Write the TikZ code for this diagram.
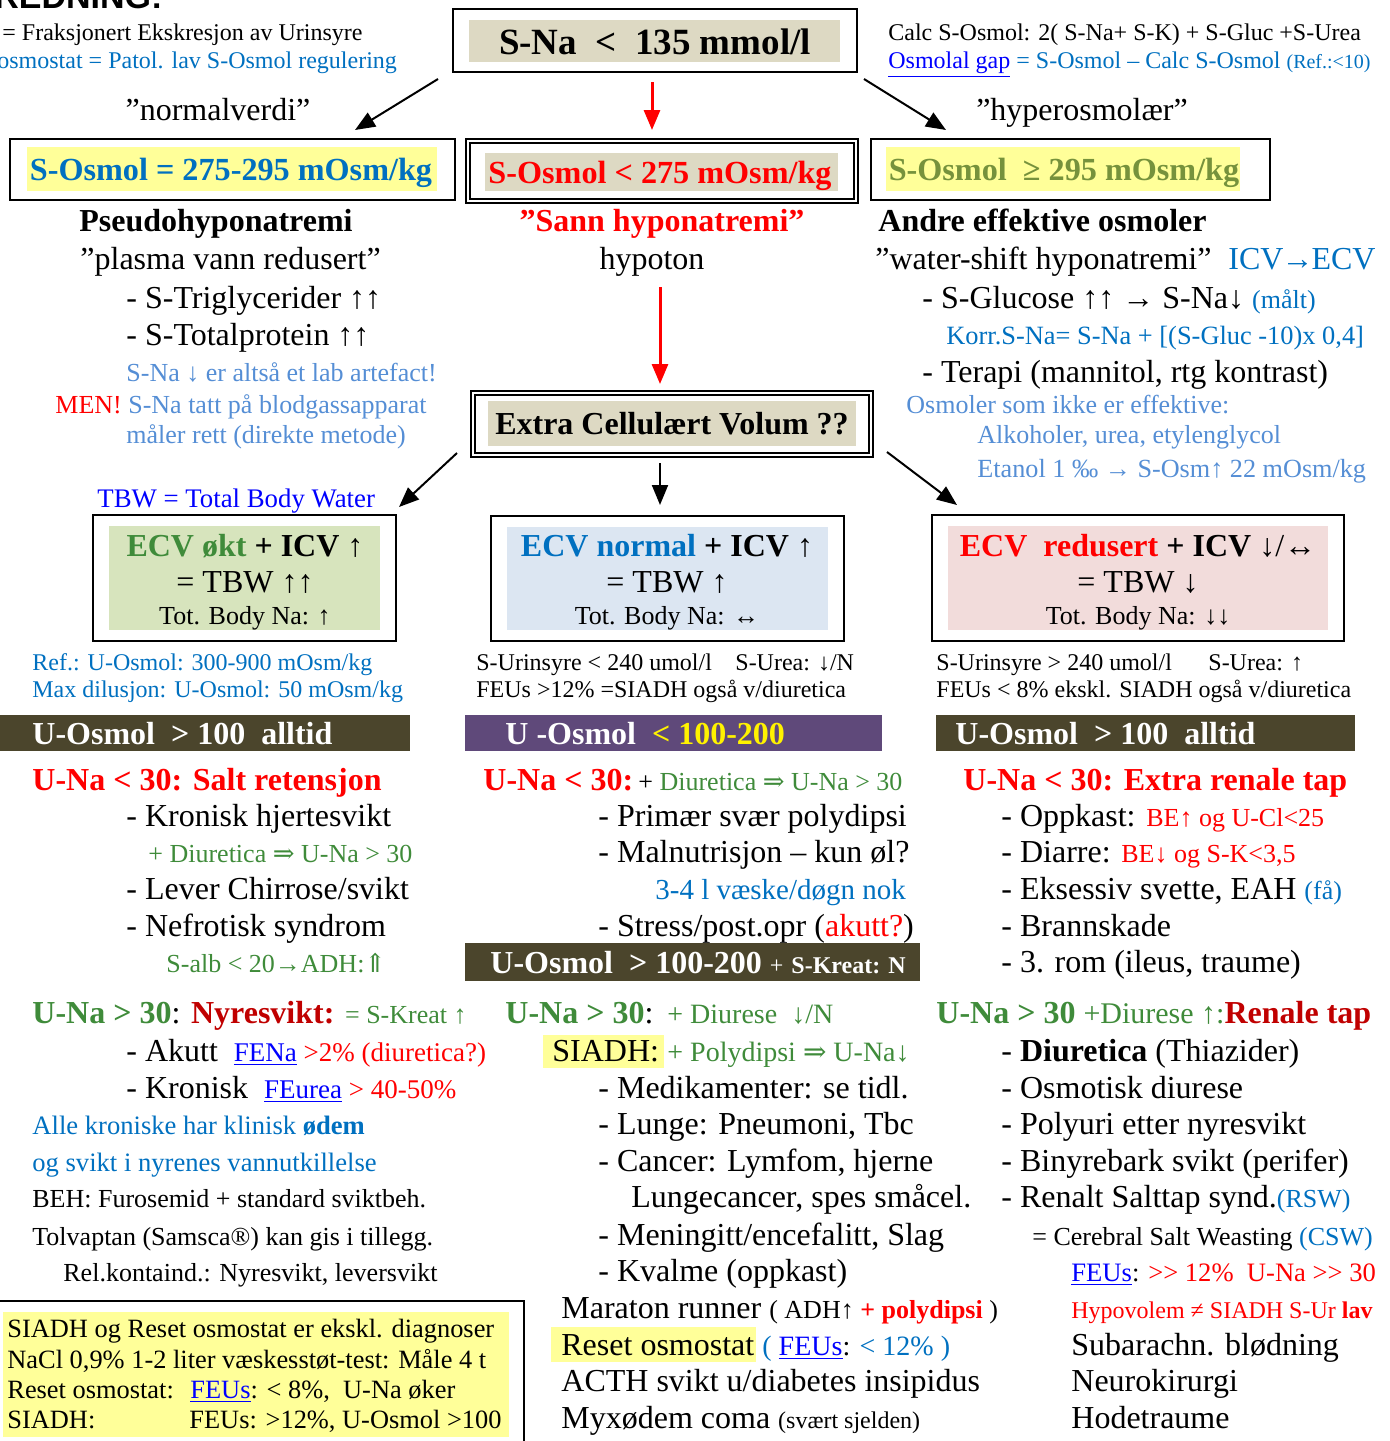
\documentclass[tikz,border=0pt]{standalone}
\usepackage{fontspec}
\setmainfont{Liberation Serif}
\setsansfont{Liberation Sans}
\newfontfamily\symfont{DejaVu Serif}
\usetikzlibrary{arrows.meta}
\definecolor{mblue}{HTML}{0070C0}
\definecolor{lblue}{HTML}{558ED5}
\definecolor{lnkblue}{HTML}{0000FF}
\definecolor{mgreen}{HTML}{3F8B3A}
\definecolor{dred}{HTML}{C00000}
\definecolor{olivebar}{HTML}{4B452C}
\definecolor{purplebar}{HTML}{5F497A}
\definecolor{beige}{HTML}{DDD9C3}
\definecolor{lyellow}{HTML}{FFFF99}
\definecolor{lgreen}{HTML}{D7E4BD}
\definecolor{lbluefill}{HTML}{DCE6F2}
\definecolor{lpink}{HTML}{F2DCDB}
\definecolor{olivetxt}{HTML}{76923C}
\newcommand{\fs}[1]{\fontsize{#1}{#1}\selectfont}
\newcommand{\lnk}[1]{\textcolor{lnkblue}{\underline{#1}}}
\newcommand{\sy}[1]{{\symfont #1}}

\begin{document}
\begin{tikzpicture}[x=0.5pt,y=-0.5pt,
    txt/.style={anchor=base west,inner sep=0pt,font=\fs{16}},
    midt/.style={anchor=base,inner sep=0pt,font=\fs{16}},
    liten/.style={txt,font=\fs{12}},
    pil/.style={-{Triangle[length=10pt,width=8pt]},line width=1pt},
    rodpil/.style={pil,red,line width=1.5pt},
    ramme/.style={draw,line width=1pt},
    tynn/.style={draw,line width=0.6pt}]
    \useasboundingbox (0,0) rectangle (1390,1441);

    % Topp
    \node[txt,font=\sffamily\bfseries\fs{17}] (tittel) at (-6,8) {REDNING:};
    \node[liten] (feus) at (2,40) {= Fraksjonert Ekskresjon av Urinsyre};
    \node[liten,text=mblue] (resetdef) at (-3,68) {osmostat = Patol. lav S-Osmol regulering};
    \node[liten] (calc) at (888,40) {Calc S-Osmol: 2( S-Na+ S-K) + S-Gluc +S-Urea};
    \node[liten,text=mblue] (gap) at (888,68) {\lnk{Osmolal gap} = S-Osmol – Calc S-Osmol {\fs{10}(Ref.:<10)}};

    \draw[ramme] (453,9) rectangle (857,72);
    \fill[beige] (469,20) rectangle (840,62);
    \node[midt,font=\bfseries\fs{18.5}] (sna) at (655,54) {S-Na \ < \ 135 mmol/l};

    \coordinate (v1) at (438,79); \coordinate (v2) at (355,130);
    \coordinate (m1) at (652,82); \coordinate (m2) at (652,130);
    \coordinate (h1) at (864,79); \coordinate (h2) at (946,130);
    \draw[pil] (v1) -- (v2);
    \draw[rodpil] (m1) -- (m2);
    \draw[pil] (h1) -- (h2);
    \node[midt] (normverdi) at (218,120) {”normalverdi”};
    \node[midt] (hyperosm) at (1082,120) {”hyperosmolær”};

    % S-Osmol bokser
    \draw[ramme] (10,139) rectangle (455,200);
    \fill[lyellow] (27,147) rectangle (437,191);
    \node[midt,font=\bfseries\fs{16.1},text=mblue] (normal) at (231,180) {S-Osmol = 275-295 mOsm/kg};
    \draw[tynn] (466,139) rectangle (858,203);
    \draw[tynn] (470,143) rectangle (854,199);
    \fill[beige] (485,153) rectangle (838,191);
    \node[midt,font=\bfseries\fs{16.1},text=red] (hypo) at (660,183) {S-Osmol < 275 mOsm/kg};
    \draw[ramme] (871,139) rectangle (1270,200);
    \fill[lyellow] (886,147) rectangle (1240,191);
    \node[midt,font=\bfseries\fs{16.1},text=olivetxt] (hyper) at (1064,180) {S-Osmol \ ≥ 295 mOsm/kg};

    % Venstre
    \node[midt,font=\bfseries\fs{16}] (pseudo) at (216,231) {Pseudohyponatremi};
    \node[txt] (plasma) at (80,269) {”plasma vann redusert”};
    \node[txt] (trig) at (126,308) {- S-Triglycerider ↑↑};
    \node[txt] (prot) at (126,345) {- S-Totalprotein ↑↑};
    \node[txt,font=\fs{13},text=lblue] (artef) at (126,381) {S-Na ↓ er altså et lab artefact!};
    \node[txt,font=\fs{13},text=lblue] (men) at (55,413) {\textcolor{red}{MEN!} S-Na tatt på blodgassapparat};
    \node[txt,font=\fs{13},text=lblue] (maaler) at (126,443) {måler rett (direkte metode)};

    % Midten
    \node[midt,font=\bfseries\fs{16},text=red] (sann) at (662,231) {”Sann hyponatremi”};
    \node[midt] (hypoton) at (652,269) {hypoton};
    \coordinate (r1) at (660,287); \coordinate (r2) at (660,384);
    \draw[rodpil] (r1) -- (r2);
    \draw[ramme] (471,391) rectangle (873,457);
    \draw[tynn] (475,395) rectangle (869,453);
    \fill[beige] (488,401) rectangle (856,446);
    \node[midt,font=\bfseries\fs{16}] (ecv) at (672,434) {Extra Cellulært Volum ??};

    % Hoyre
    \node[txt,font=\bfseries\fs{16}] (andre) at (878,231) {Andre effektive osmoler};
    \node[txt] (shift) at (875,269) {”water-shift hyponatremi”};
    \node[txt,text=mblue] (icv) at (1228,269) {ICV\kern-1pt→\kern-1pt ECV};
    \node[txt] (gluc) at (922,308) {- S-Glucose ↑↑ → S-Na↓ \textcolor{mblue}{\fs{13}(målt)}};
    \node[txt,font=\fs{13.2},text=mblue] (korr) at (946,344) {Korr.S-Na= S-Na + [(S-Gluc -10)x 0,4]};
    \node[txt] (terapi) at (922,382) {- Terapi (mannitol, rtg kontrast)};
    \node[txt,font=\fs{13},text=lblue] (ikkeeff) at (906,413) {Osmoler som ikke er effektive:};
    \node[txt,font=\fs{13},text=lblue] (alko) at (977,443) {Alkoholer, urea, etylenglycol};
    \node[txt,font=\fs{13.1},text=lblue] (etanol) at (977,477) {Etanol 1 ‰ → S-Osm↑ 22 mOsm/kg};

    \coordinate (e1) at (457,453); \coordinate (e2) at (399,507);
    \coordinate (e3) at (660,463); \coordinate (e4) at (660,505);
    \coordinate (e5) at (887,452); \coordinate (e6) at (957,505);
    \draw[pil] (e1) -- (e2);
    \draw[pil] (e3) -- (e4);
    \draw[pil] (e5) -- (e6);
    \node[txt,font=\fs{13.4},text=lnkblue] (tbw) at (97,507) {\underline{TBW = Total Body Water}};

    % ECV bokser
    \draw[ramme] (93,515) rectangle (396,641);
    \fill[lgreen] (109,526) rectangle (380,630);
    \node[midt,font=\bfseries\fs{16}] (okt) at (245,556) {\textcolor{mgreen}{ECV økt} + ICV {\mdseries ↑}};
    \node[midt] (tbwokt) at (245,592) {= TBW ↑↑};
    \node[midt,font=\fs{13}] (naokt) at (245,624) {Tot. Body Na: ↑};

    \draw[ramme] (491,516) rectangle (844,641);
    \fill[lbluefill] (507,527) rectangle (828,630);
    \node[midt,font=\bfseries\fs{16}] (norm) at (667,556) {\textcolor{mblue}{ECV normal} + ICV {\mdseries ↑}};
    \node[midt] (tbwnorm) at (667,592) {= TBW ↑};
    \node[midt,font=\fs{13}] (nanorm) at (667,624) {Tot. Body Na: ↔};

    \draw[ramme] (932,515) rectangle (1344,641);
    \fill[lpink] (948,526) rectangle (1328,630);
    \node[midt,font=\bfseries\fs{16}] (red) at (1138,556) {\textcolor{red}{ECV \ redusert} + ICV {\mdseries ↓/↔}};
    \node[midt] (tbwred) at (1138,592) {= TBW ↓};
    \node[midt,font=\fs{13}] (nared) at (1138,624) {Tot. Body Na: ↓↓};

    \node[liten,text=mblue] (ref) at (32,670) {Ref.: U-Osmol: 300-900 mOsm/kg};
    \node[liten,text=mblue] (maxdil) at (32,697) {Max dilusjon: U-Osmol: 50 mOsm/kg};
    \node[liten] (urin1) at (476,670) {S-Urinsyre < 240 umol/l};
    \node[liten] (urea1) at (735,670) {S-Urea: ↓/N};
    \node[liten] (feu1) at (476,697) {FEUs >12\% =SIADH også v/diuretica};
    \node[liten] (urin2) at (936,670) {S-Urinsyre > 240 umol/l};
    \node[liten] (urea2) at (1208,670) {S-Urea: ↑};
    \node[liten] (feu2) at (936,697) {FEUs < 8\% ekskl. SIADH også v/diuretica};

    % U-Osmol bjelker
    \fill[olivebar] (0,715) rectangle (410,751);
    \node[txt,font=\bfseries\fs{16},text=white] (uosm1) at (32,744) {U-Osmol \ > 100 \ alltid};
    \fill[purplebar] (465,715) rectangle (882,751);
    \node[txt,font=\bfseries\fs{16},text=white] (uosm2) at (505,744) {U -Osmol \ \textcolor{yellow}{< 100-200}};
    \fill[olivebar] (936,715) rectangle (1355,751);
    \node[txt,font=\bfseries\fs{16},text=white] (uosm3) at (955,744) {U-Osmol \ > 100 \ alltid};

    % U-Na < 30
    \node[txt,font=\bfseries\fs{16},text=red] (salt) at (32,790) {U-Na < 30: Salt retensjon};
    \node[txt] (hjerte) at (126,826) {- Kronisk hjertesvikt};
    \node[txt,font=\fs{13},text=mgreen] (diur1) at (148,862) {+ Diuretica \sy{⇒} U-Na > 30};
    \node[txt] (lever) at (126,899) {- Lever Chirrose/svikt};
    \node[txt] (nefro) at (126,936) {- Nefrotisk syndrom};
    \node[txt,font=\fs{13},text=mgreen] (salb) at (166,972) {S-alb < 20→ADH:\sy{⇑}};

    \node[txt,font=\bfseries\fs{16},text=red] (una2) at (483,790) {U-Na < 30:};
    \node[txt,font=\fs{13}] (diur2) at (638,790) {+ \textcolor{mgreen}{Diuretica \sy{⇒} U-Na > 30}};
    \node[txt] (poly) at (598,826) {- Primær svær polydipsi};
    \node[txt] (maln) at (598,862) {- Malnutrisjon – kun øl?};
    \node[txt,font=\fs{14.5},text=mblue] (vaeske) at (655,899) {3-4 l væske/døgn nok};
    \node[txt] (stress) at (598,936) {- Stress/post.opr (\textcolor{red}{akutt?})};
    \fill[olivebar] (465,943) rectangle (920,981);
    \node[txt,font=\bfseries\fs{16},text=white] (uosm4) at (490,973) {U-Osmol \ > 100-200 {\fs{12}\mdseries +} {\fs{12}S-Kreat: N}};

    \node[txt,font=\bfseries\fs{16},text=red] (extra) at (963,790) {U-Na < 30: Extra renale tap};
    \node[txt] (oppk) at (1001,826) {- Oppkast: \textcolor{red}{\fs{13}BE↑ og U-Cl<25}};
    \node[txt] (diarre) at (1001,862) {- Diarre: \textcolor{red}{\fs{13}BE↓ og S-K<3,5}};
    \node[txt] (svette) at (1001,899) {- Eksessiv svette, EAH \textcolor{mblue}{\fs{13}(få)}};
    \node[txt] (brann) at (1001,936) {- Brannskade};
    \node[txt] (rom) at (1001,972) {- 3. rom (ileus, traume)};

    % U-Na > 30
    \node[txt,font=\bfseries\fs{16}] (nyre) at (32,1023) {\textcolor{mgreen}{U-Na > 30}{\mdseries :} \textcolor{dred}{Nyresvikt:} {\mdseries\fs{13}\color{mgreen}= S-Kreat ↑}};
    \node[txt] (akutt) at (126,1061) {- Akutt \ {\fs{13.5}\lnk{FENa} \textcolor{red}{>2\% (diuretica?)}}};
    \node[txt] (kron) at (126,1098) {- Kronisk \ {\fs{13.5}\lnk{FEurea} \textcolor{red}{> 40-50\%}}};
    \node[txt,font=\fs{13.3},text=mblue] (alle) at (32,1134) {Alle kroniske har klinisk \textbf{ødem}};
    \node[txt,font=\fs{13.3},text=mblue] (ogsvikt) at (32,1171) {og svikt i nyrenes vannutkillelse};
    \node[txt,font=\fs{13}] (beh) at (32,1207) {BEH: Furosemid + standard sviktbeh.};
    \node[txt,font=\fs{13}] (tolv) at (32,1245) {Tolvaptan (Samsca®) kan gis i tillegg.};
    \node[txt,font=\fs{13}] (rel) at (63,1281) {Rel.kontaind.: Nyresvikt, leversvikt};

    \draw[ramme] (-5,1301) rectangle (524,1460);
    \fill[lyellow] (3,1312) rectangle (509,1437);
    \node[txt,font=\fs{13.2}] (eks) at (7,1337) {SIADH og Reset osmostat er ekskl. diagnoser};
    \node[txt,font=\fs{13.2}] (nacl) at (7,1368) {NaCl 0,9\% 1-2 liter væskesstøt-test: Måle 4 t};
    \node[txt,font=\fs{13.2}] (resetb) at (7,1398) {Reset osmostat:};
    \node[txt,font=\fs{13.2}] (feub1) at (190,1398) {\lnk{FEUs}: < 8\%, \ U-Na øker};
    \node[txt,font=\fs{13.2}] (siadhb) at (7,1428) {SIADH:};
    \node[txt,font=\fs{13.2}] (feub2) at (189,1428) {FEUs: >12\%, U-Osmol >100};

    \node[txt,font=\bfseries\fs{16},text=mgreen] (una5) at (505,1023) {U-Na > 30{\mdseries\color{black}:}};
    \node[txt,font=\fs{14},text=mgreen] (diurese) at (667,1023) {+ Diurese \ ↓/N};
    \fill[lyellow] (543,1035) rectangle (664,1068);
    \node[txt] (siadh) at (552,1061) {SIADH:};
    \node[txt,font=\fs{14},text=mgreen] (polyd) at (667,1061) {+ Polydipsi \sy{⇒} U-Na↓};
    \node[txt] (medik) at (598,1098) {- Medikamenter: se tidl.};
    \node[txt] (lunge) at (598,1134) {- Lunge: Pneumoni, Tbc};
    \node[txt] (cancer) at (598,1171) {- Cancer: Lymfom, hjerne};
    \node[txt] (lungeca) at (631,1207) {Lungecancer, spes småcel.};
    \node[txt] (menin) at (598,1245) {- Meningitt/encefalitt, Slag};
    \node[txt] (kvalme) at (598,1281) {- Kvalme (oppkast)};
    \node[txt] (maraton) at (561,1318) {Maraton runner {\fs{13}( ADH↑ \textcolor{red}{\bfseries + polydipsi} )}};
    \fill[lyellow] (551,1327) rectangle (756,1362);
    \node[txt] (resetos) at (561,1355) {Reset osmostat};
    \node[txt,font=\fs{14},text=mblue] (feu3) at (762,1355) {( \lnk{FEUs}\textcolor{black}{:} < 12\% )};
    \node[txt] (acth) at (561,1391) {ACTH svikt u/diabetes insipidus};
    \node[txt] (myx) at (561,1428) {Myxødem coma {\fs{12}(svært sjelden)}};

    \node[txt,font=\bfseries\fs{16},text=mgreen] (una6) at (936,1023) {U-Na > 30 {\mdseries\fs{15}+Diurese ↑:}\textcolor{dred}{Renale tap}};
    \node[txt] (diuret) at (1001,1061) {- \textbf{Diuretica} (Thiazider)};
    \node[txt] (osmot) at (1001,1098) {- Osmotisk diurese};
    \node[txt] (polyuri) at (1001,1134) {- Polyuri etter nyresvikt};
    \node[txt] (binyre) at (1001,1171) {- Binyrebark svikt (perifer)};
    \node[txt] (renalt) at (1001,1207) {- Renalt Salttap synd.\textcolor{mblue}{\fs{13}(RSW)}};
    \node[txt,font=\fs{13}] (csw) at (1032,1245) {= Cerebral Salt Weasting \textcolor{mblue}{(CSW)}};
    \node[txt,font=\fs{13.3},text=red] (feu4) at (1071,1281) {\lnk{FEUs}\textcolor{black}{:} >{}> 12\% \ U-Na >{}> 30};
    \node[txt,font=\fs{12},text=red] (hypov) at (1071,1318) {Hypovolem ≠ SIADH S-Ur \textbf{lav}};
    \node[txt] (subar) at (1071,1355) {Subarachn. blødning};
    \node[txt] (neuro) at (1071,1391) {Neurokirurgi};
    \node[txt] (hode) at (1071,1428) {Hodetraume};
\end{tikzpicture}
\end{document}
